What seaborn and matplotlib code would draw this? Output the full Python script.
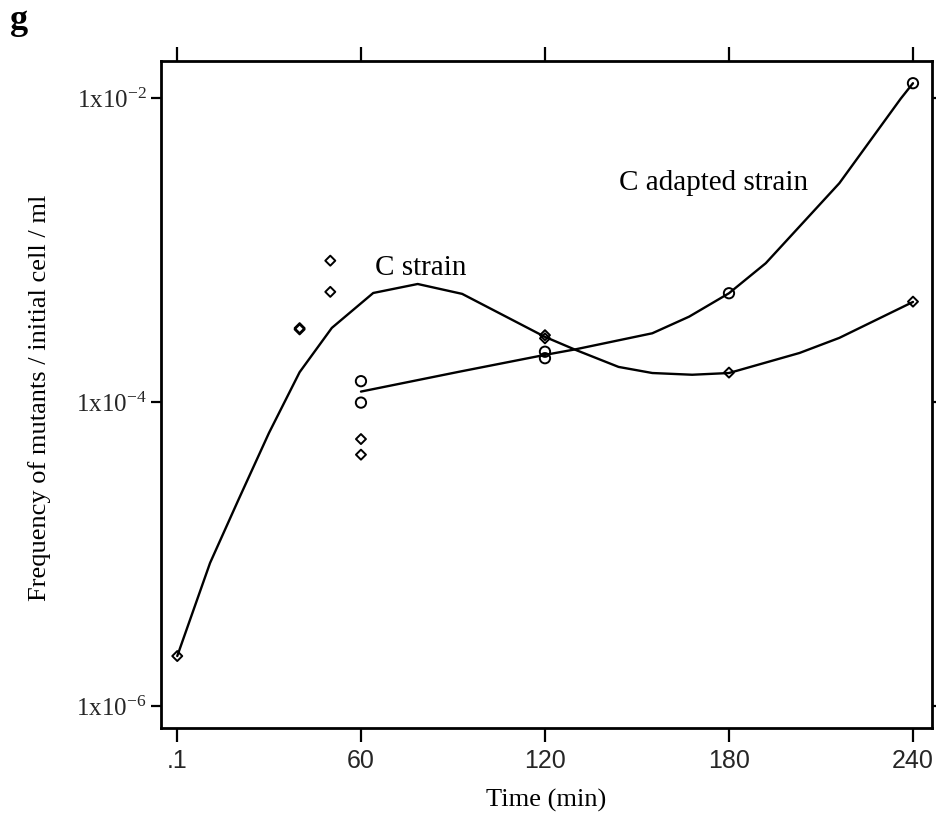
import matplotlib
matplotlib.use("Agg")
import matplotlib.pyplot as plt
import seaborn as sns
import pandas as pd
from matplotlib import font_manager
from matplotlib.ticker import NullLocator, FixedLocator, FixedFormatter

# ---------------- data ----------------
# C strain measurements (open diamonds)
c_time = [0.1, 40, 40, 50, 50, 60, 60, 120, 120, 180, 240]
c_freq = [2.13e-6, 3.0e-4, 3.06e-4, 8.5e-4, 5.3e-4, 5.7e-5, 4.5e-5,
          2.62e-4, 2.75e-4, 1.56e-4, 4.57e-4]

# C adapted strain measurements (open circles)
a_time = [60, 60, 120, 120, 180, 240]
a_freq = [1.37e-4, 9.9e-5, 2.14e-4, 1.94e-4, 5.19e-4, 1.25e-2]

# smoothed curve through C strain
c_curve_time = [0.1, 10.8, 20, 30, 40, 50.5, 64, 78.5, 93, 120, 130, 144,
                155, 168, 180, 203, 216, 240]
c_curve_freq = [2.13e-6, 8.73e-6, 2.26e-5, 6.25e-5, 1.57e-4, 3.07e-4,
                5.21e-4, 5.97e-4, 5.14e-4, 2.68e-4, 2.20e-4, 1.70e-4,
                1.55e-4, 1.51e-4, 1.55e-4, 2.10e-4, 2.64e-4, 4.55e-4]

# smoothed curve through C adapted strain
a_curve_time = [60, 92, 120, 130, 155, 167, 180, 192, 216, 236, 240]
a_curve_freq = [1.17e-4, 1.58e-4, 2.04e-4, 2.22e-4, 2.83e-4, 3.64e-4,
                5.19e-4, 8.18e-4, 2.75e-3, 9.89e-3, 1.25e-2]

x_ticks = [0.1, 60, 120, 180, 240]
x_tick_labels = [".1", "60", "120", "180", "240"]
y_ticks = [1e-6, 1e-4, 1e-2]
y_tick_labels = [r"$\mathregular{1x10^{-6}}$", r"$\mathregular{1x10^{-4}}$",
                 r"$\mathregular{1x10^{-2}}$"]

# ---------------- styling ----------------
sns.set_style("ticks")
plt.rcParams["font.family"] = ["Liberation Serif", "DejaVu Serif"]
plt.rcParams["mathtext.fontset"] = "custom"
plt.rcParams["mathtext.rm"] = "Liberation Serif"

names = {f.name for f in font_manager.fontManager.ttflist}
xfont = "Liberation Sans Narrow" if "Liberation Sans Narrow" in names else "Liberation Sans"

W, H = 937, 825
fig = plt.figure(figsize=(W / 100, H / 100), dpi=100)
ax = fig.add_axes([161 / W, 1 - 728 / H, 771 / W, 667 / H])

df_c = pd.DataFrame({"time": c_time, "freq": c_freq})
df_a = pd.DataFrame({"time": a_time, "freq": a_freq})
df_cc = pd.DataFrame({"time": c_curve_time, "freq": c_curve_freq})
df_ac = pd.DataFrame({"time": a_curve_time, "freq": a_curve_freq})

sns.lineplot(data=df_cc, x="time", y="freq", estimator=None, sort=False,
             color="black", linewidth=1.7, ax=ax)
sns.lineplot(data=df_ac, x="time", y="freq", estimator=None, sort=False,
             color="black", linewidth=1.7, ax=ax)

sns.scatterplot(data=df_c, x="time", y="freq", marker="D", s=26,
                color="black", ax=ax)
coll = ax.collections[-1]
coll.set_facecolor("none"); coll.set_edgecolor("black"); coll.set_linewidth(1.4)

sns.scatterplot(data=df_a, x="time", y="freq", marker="o", s=55,
                color="black", ax=ax)
coll = ax.collections[-1]
coll.set_facecolor("none"); coll.set_edgecolor("black"); coll.set_linewidth(1.4)

ax.set_yscale("log")
ax.set_xlim(-5.2, 246.2)
ax.set_ylim(10 ** -6.145, 10 ** -1.757)

ax.xaxis.set_major_locator(FixedLocator(x_ticks))
ax.xaxis.set_major_formatter(FixedFormatter(x_tick_labels))
ax.yaxis.set_major_locator(FixedLocator(y_ticks))
ax.yaxis.set_major_formatter(FixedFormatter(y_tick_labels))
ax.xaxis.set_minor_locator(NullLocator())
ax.yaxis.set_minor_locator(NullLocator())

ax.tick_params(axis="x", which="major", direction="out", length=10, width=1.6,
               top=True, bottom=True, labelsize=18, pad=5, color="black")
ax.tick_params(axis="y", which="major", direction="out", length=7, width=1.6,
               left=True, right=True, labelsize=18, pad=3.5, color="black")
for lbl in ax.get_xticklabels():
    lbl.set_fontfamily(xfont)
for lbl in ax.get_yticklabels():
    lbl.set_fontfamily("Liberation Serif")

for sp in ax.spines.values():
    sp.set_visible(True)
    sp.set_linewidth(2.0)
    sp.set_color("black")

ax.set_xlabel("")
ax.set_ylabel("")
fig.text(546 / W, 1 - 800 / H, "Time (min)", ha="center", va="center",
         fontsize=19, color="black")
fig.text(40 / W, 1 - 398 / H, "Frequency of mutants / initial cell / ml",
         rotation=90, ha="center", va="center", fontsize=19, color="black")

ax.text(79.6, 10 ** -3.118, "C strain", ha="center", va="center",
        fontsize=21, color="black")
ax.text(175, 10 ** -2.559, "C adapted strain", ha="center", va="center",
        fontsize=21, color="black")

fig.text(10 / W, 1 - 29 / H, "g", ha="left", va="baseline", fontsize=26,
         fontweight="bold", color="black")

fig.savefig("out.png", dpi=100, facecolor="white")
